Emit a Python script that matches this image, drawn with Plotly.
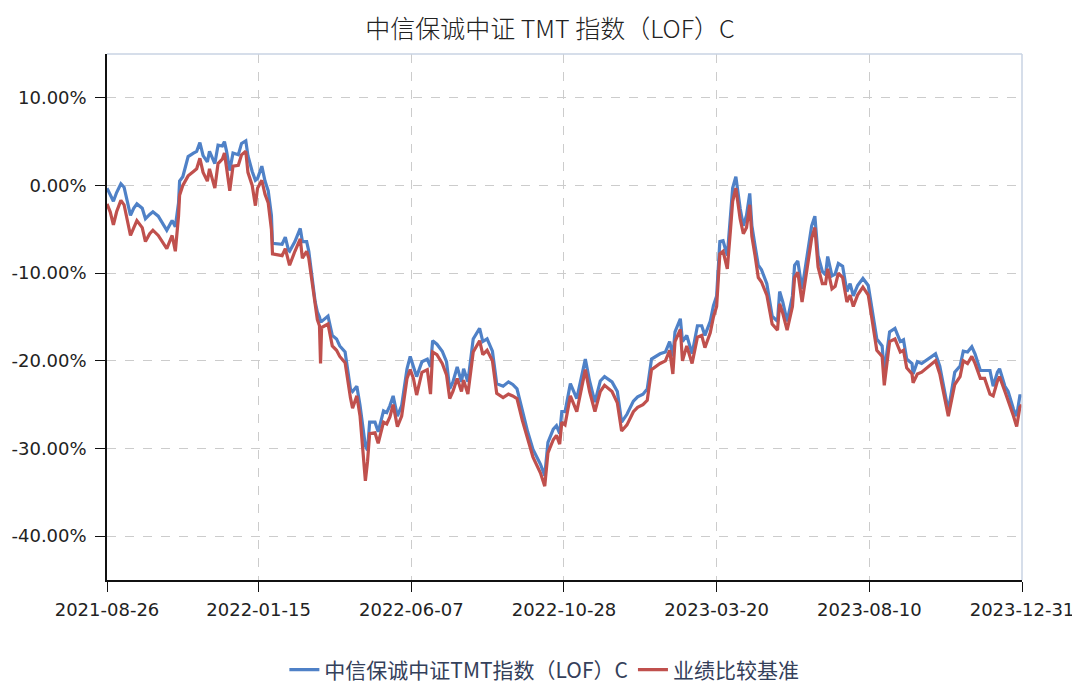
import datetime as dt
import plotly.graph_objects as go

# days since fund inception 2021-08-26
days = [0, 3, 6, 9, 13, 16, 22, 25, 28, 33, 36, 40, 43, 48, 52, 56, 61, 64, 67, 68,
        71, 76, 81, 84, 87, 90, 94, 96, 101, 104, 108, 110, 112, 115, 118, 123, 126, 130, 132, 136,
        139, 141, 145, 148, 151, 154, 155, 164, 167, 170, 171, 176, 181, 183, 187, 189, 195, 197, 199, 200,
        201, 207, 211, 215, 218, 223, 228, 230, 234, 237, 242, 244, 246, 251, 254, 259, 262, 265, 268, 272,
        276, 281, 284, 287, 290, 295, 300, 303, 305, 309, 314, 318, 321, 324, 328, 332, 334, 338, 343, 349,
        352, 356, 361, 365, 371, 376, 380, 384, 389, 394, 399, 406, 410, 413, 418, 421, 424, 426, 429, 434,
        440, 448, 452, 457, 462, 466, 473, 478, 482, 487, 493, 497, 502, 506, 510, 518, 523, 527, 530, 532,
        537, 539, 543, 548, 553, 557, 560, 565, 568, 571, 574, 577, 581, 584, 586, 589, 593, 596, 599, 602,
        604, 607, 610, 613, 618, 623, 628, 630, 633, 637, 642, 644, 647, 651, 656, 660, 663, 666, 670, 673,
        675, 679, 682, 685, 689, 693, 696, 699, 703, 708, 713, 717, 721, 726, 728, 733, 738, 743, 746, 749,
        754, 755, 759, 763, 776, 780, 788, 794, 799, 802, 806, 810, 813, 818, 822, 827, 830, 834, 836, 841,
        844, 849, 852, 855, 857]

fund = [-0.3, -1.0, -1.8, -0.8, 0.2, -0.2, -3.4, -2.6, -2.1, -2.6, -3.8, -3.3, -3.0, -3.5, -4.3, -5.1, -4.0, -4.7, -2.0, 0.5,
        1.0, 3.3, 3.7, 3.9, 4.9, 3.4, 2.7, 3.9, 2.5, 4.6, 4.5, 5.0, 3.9, 1.7, 3.7, 3.5, 4.8, 5.1, 3.4, 1.6,
        0.6, 0.8, 2.2, 0.5, -0.6, -3.4, -6.6, -6.7, -5.9, -7.4, -7.5, -6.4, -4.9, -6.4, -6.4, -7.5, -13.3, -14.4, -15.0, -15.5,
        -15.5, -14.9, -17.1, -17.5, -18.3, -19.0, -23.2, -23.5, -22.9, -25.1, -29.7, -30.2, -27.0, -27.0, -28.1, -25.7, -25.9, -25.1, -24.0, -26.3,
        -25.1, -20.9, -19.5, -20.6, -21.8, -20.1, -19.8, -20.7, -17.7, -18.1, -18.9, -20.1, -23.2, -22.4, -20.7, -22.4, -20.9, -22.4, -17.5, -16.3,
        -17.8, -17.5, -18.9, -22.6, -22.9, -22.4, -22.7, -23.2, -25.8, -28.1, -30.1, -31.8, -33.1, -29.3, -27.8, -27.4, -28.3, -25.8, -25.8, -22.6,
        -24.3, -19.8, -22.3, -24.7, -22.3, -21.8, -22.4, -23.5, -27.0, -26.1, -24.6, -24.1, -23.8, -23.2, -19.8, -19.2, -19.0, -17.8, -19.5, -16.7,
        -15.2, -17.8, -17.1, -19.2, -16.0, -16.0, -17.1, -15.5, -13.7, -12.6, -6.4, -6.3, -8.0, -3.8, -0.3, 1.0, -2.6, -4.6, -3.4, -0.9,
        -4.6, -6.9, -9.1, -9.6, -11.2, -14.9, -15.5, -12.1, -13.3, -15.5, -12.6, -9.1, -8.6, -11.8, -8.0, -4.6, -3.5, -8.0, -9.8, -10.2,
        -8.1, -10.3, -10.1, -8.9, -9.2, -12.1, -11.2, -12.6, -11.4, -10.6, -11.4, -14.4, -17.5, -18.3, -21.3, -16.7, -16.3, -17.8, -17.6, -19.8,
        -20.3, -21.5, -20.1, -20.3, -19.2, -20.6, -25.7, -21.3, -20.6, -18.9, -19.0, -18.4, -19.2, -21.1, -21.1, -21.1, -22.9, -21.3, -20.9, -22.9,
        -23.5, -25.5, -26.3, -24.0, -24.0]

bench = [-2.1, -3.0, -4.5, -3.0, -1.7, -2.2, -5.7, -4.8, -4.0, -4.8, -6.4, -5.5, -5.1, -5.7, -6.5, -7.2, -5.7, -7.5, -3.5, -1.1,
         0.0, 1.1, 1.6, 1.9, 3.1, 1.5, 0.5, 1.9, -0.3, 2.5, 3.0, 3.7, 2.0, -0.6, 2.2, 2.3, 3.5, 3.9, 1.5, 0.0,
         -2.3, -0.3, 0.6, -1.0, -2.0, -5.0, -7.8, -8.0, -7.2, -8.5, -9.1, -7.5, -6.1, -8.3, -7.5, -8.3, -14.0, -15.3, -16.0, -20.3,
         -16.2, -15.8, -18.3, -18.8, -19.5, -20.2, -24.2, -25.4, -24.0, -26.3, -33.7, -31.5, -28.3, -28.2, -29.4, -27.0, -27.2, -26.4, -25.0, -27.5,
         -26.3, -22.0, -21.0, -22.0, -23.9, -21.3, -21.0, -23.8, -19.0, -19.3, -20.3, -21.6, -24.3, -23.5, -22.0, -23.5, -22.2, -23.8, -19.0, -17.7,
         -19.3, -18.8, -20.0, -23.7, -24.2, -23.8, -24.0, -24.3, -26.8, -29.0, -31.0, -32.8, -34.3, -30.5, -29.0, -28.5, -29.5, -27.0, -27.3, -24.0,
         -25.8, -21.0, -23.5, -25.8, -23.5, -22.8, -23.5, -24.8, -28.0, -27.3, -25.8, -25.3, -25.0, -24.5, -21.0, -20.3, -20.0, -18.8, -21.5, -17.8,
         -16.4, -20.0, -18.3, -20.3, -17.3, -17.1, -18.5, -16.8, -15.0, -13.8, -7.8, -7.5, -9.5, -5.0, -1.8, -0.3, -3.8, -5.5, -4.8, -2.2,
         -5.8, -8.0, -10.5, -11.0, -12.5, -15.8, -16.5, -13.5, -14.6, -16.5, -13.8, -10.5, -9.9, -13.3, -9.5, -6.0, -4.8, -9.3, -11.2, -11.2,
         -9.5, -11.8, -11.5, -10.0, -10.5, -13.3, -12.5, -13.8, -12.5, -11.6, -12.5, -15.5, -18.8, -19.5, -22.8, -17.8, -17.5, -19.0, -18.8, -20.8,
         -21.5, -22.5, -21.5, -21.3, -20.0, -21.5, -26.3, -22.7, -21.8, -20.0, -20.3, -19.5, -20.3, -22.0, -22.0, -23.8, -24.0, -22.3, -21.8, -23.5,
         -24.5, -26.3, -27.5, -25.3, -25.0]

tick_dates = ["2021-08-26", "2022-01-15", "2022-06-07", "2022-10-28",
              "2023-03-20", "2023-08-10", "2023-12-31"]
y_ticks = [10, 0, -10, -20, -30, -40]

start = dt.date(2021, 8, 26)
dates = [start + dt.timedelta(days=d) for d in days]

fig = go.Figure()
fig.add_trace(go.Scatter(x=dates, y=fund, mode="lines",
                         name="中信保诚中证TMT指数（LOF）C",
                         line=dict(color="#4f81c7", width=3.2)))
fig.add_trace(go.Scatter(x=dates, y=bench, mode="lines",
                         name="业绩比较基准",
                         line=dict(color="#c0504d", width=3.2)))

fig.update_layout(
    width=1072, height=678,
    margin=dict(l=99, r=58, t=46, b=106, autoexpand=False),
    paper_bgcolor="white", plot_bgcolor="white",
    title=dict(text="中信保诚中证 TMT 指数（LOF）C", x=0.5056, xanchor="center",
               y=0.968, yanchor="middle",
               font=dict(family="Noto Sans CJK SC", size=25, color="#222222", weight=300)),
    font=dict(family="DejaVu Sans, sans-serif", size=18, color="#222222"),
    showlegend=True,
    legend=dict(orientation="h", x=0.478, xanchor="center", y=-0.171, yanchor="middle",
                font=dict(family="Noto Sans CJK SC", size=21, color="#34405a"),
                itemwidth=30, bgcolor="rgba(0,0,0,0)"),
    xaxis=dict(type="date", range=["2021-08-26", "2023-12-31"],
               tickvals=tick_dates, ticktext=tick_dates,
               showgrid=True, gridcolor="#cccccc", griddash="dash", gridwidth=1,
               showline=True, linecolor="#111111", linewidth=1.5,
               ticks="outside", ticklen=10, tickcolor="#111111",
               ticklabelstandoff=3,
               tickfont=dict(size=18), zeroline=False),
    yaxis=dict(range=[-45, 15], tickvals=y_ticks,
               ticktext=[f"{v:.2f}%" for v in y_ticks],
               showgrid=True, gridcolor="#cccccc", griddash="dash", gridwidth=1,
               showline=True, linecolor="#111111", linewidth=1.5,
               ticks="outside", ticklen=10, tickcolor="#111111",
               ticklabelstandoff=5,
               tickfont=dict(size=18), zeroline=False),
    shapes=[
        dict(type="line", xref="paper", yref="paper", x0=0, x1=1, y0=1, y1=1,
             line=dict(color="#c8d3e3", width=1.5)),
        dict(type="line", xref="paper", yref="paper", x0=1, x1=1, y0=0, y1=1,
             line=dict(color="#c8d3e3", width=1.5)),
    ],
)

fig.write_html("out.html")
